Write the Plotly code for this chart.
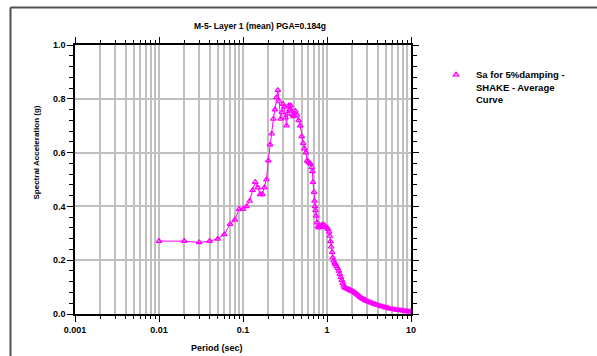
import plotly.graph_objects as go

period = [0.01, 0.02, 0.03, 0.04, 0.05, 0.06, 0.07, 0.08, 0.09, 0.10,
          0.11, 0.12, 0.13, 0.14, 0.15, 0.16, 0.17, 0.18, 0.19, 0.20,
          0.21, 0.22, 0.23, 0.24, 0.25, 0.26, 0.27, 0.28, 0.29, 0.30,
          0.31, 0.32, 0.33, 0.34, 0.35, 0.36, 0.37, 0.38, 0.39, 0.40,
          0.42, 0.44, 0.46, 0.48, 0.50, 0.52, 0.54, 0.56, 0.58, 0.60,
          0.62, 0.64, 0.66, 0.67, 0.68, 0.70, 0.71, 0.72, 0.73, 0.74,
          0.76, 0.78, 0.80, 0.83, 0.86, 0.90, 0.93, 0.96, 1.00, 1.03,
          1.06, 1.08, 1.10, 1.12, 1.15, 1.17, 1.20, 1.23, 1.26, 1.30,
          1.34, 1.38, 1.42, 1.46, 1.50, 1.54, 1.58, 1.62, 1.67, 1.72,
          1.78, 1.84, 1.90, 1.96, 2.02, 2.08, 2.15, 2.22, 2.30, 2.38,
          2.46, 2.55, 2.65, 2.75, 2.85, 2.95, 3.10, 3.25, 3.40, 3.60,
          3.80, 4.00, 4.25, 4.50, 4.75, 5.00, 5.30, 5.60, 6.00, 6.40,
          6.80, 7.20, 7.60, 8.00, 8.50, 9.00, 9.50, 10.0]

sa = [0.271, 0.271, 0.266, 0.271, 0.279, 0.296, 0.334, 0.350, 0.390, 0.390,
      0.400, 0.420, 0.460, 0.490, 0.470, 0.445, 0.445, 0.470, 0.500, 0.570,
      0.630, 0.670, 0.725, 0.760, 0.805, 0.832, 0.790, 0.725, 0.750, 0.780,
      0.770, 0.730, 0.700, 0.745, 0.775, 0.760, 0.775, 0.755, 0.740, 0.735,
      0.755, 0.740, 0.720, 0.700, 0.660, 0.635, 0.615, 0.600, 0.570, 0.565,
      0.562, 0.558, 0.545, 0.530, 0.490, 0.453, 0.420, 0.400, 0.385, 0.365,
      0.340, 0.325, 0.321, 0.325, 0.330, 0.332, 0.330, 0.322, 0.321, 0.315,
      0.305, 0.290, 0.270, 0.250, 0.230, 0.210, 0.198, 0.190, 0.185, 0.178,
      0.170, 0.160, 0.148, 0.137, 0.126, 0.115, 0.105, 0.099, 0.096, 0.094,
      0.092, 0.090, 0.088, 0.086, 0.084, 0.082, 0.079, 0.076, 0.072, 0.068,
      0.064, 0.060, 0.057, 0.054, 0.051, 0.049, 0.046, 0.043, 0.041, 0.038,
      0.035, 0.033, 0.030, 0.028, 0.026, 0.024, 0.022, 0.020, 0.018, 0.016,
      0.015, 0.014, 0.013, 0.012, 0.011, 0.010, 0.009, 0.009]

x_tickvals = [0.001, 0.01, 0.1, 1, 10]
x_ticktext = ["0.001", "0.01", "0.1", "1", "10"]
x_minor = [m * d for d in [0.001, 0.01, 0.1, 1] for m in range(2, 10)]
y_tickvals = [0.0, 0.2, 0.4, 0.6, 0.8, 1.0]
y_ticktext = ["0.0", "0.2", "0.4", "0.6", "0.8", "1.0"]

title_text = "M-5- Layer 1 (mean) PGA=0.184g"
x_title = "Period (sec)"
y_title = "Spectral Acceleration (g)"
series_name = "Sa for 5%damping -<br>SHAKE - Average<br>Curve"

W, H = 597, 356
ML, MR, MT, MB = 75, 186, 45, 42
PW, PH = W - ML - MR, H - MT - MB

def px(x):
    return (x - ML) / PW

def py(y):
    return (H - MB - y) / PH

FONT = "Liberation Sans, Arial, sans-serif"
MAG = "#ff00ff"
GRID = "#c0c0c0"
FRAME = "#505050"

fig = go.Figure()
# connecting line (no legend entry)
fig.add_trace(go.Scatter(
    x=period, y=sa, mode="lines", showlegend=False, hoverinfo="skip",
    line=dict(color=MAG, width=1),
))
# markers with legend entry
fig.add_trace(go.Scatter(
    x=period, y=sa, mode="markers", name=series_name,
    marker=dict(symbol="triangle-up-open", color=MAG, size=5, line=dict(width=1.2, color=MAG)),
))

axis_common = dict(
    showline=True, linecolor="black", linewidth=1.5, mirror="ticks",
    ticks="outside", tickcolor="black", tickwidth=1, ticklen=6,
    showgrid=True, gridcolor=GRID, gridwidth=2, zeroline=False,
    tickfont=dict(family=FONT, size=9, color="black", weight="bold"),
)

fig.update_layout(
    width=W, height=H, autosize=False,
    margin=dict(l=ML, r=MR, t=MT, b=MB),
    paper_bgcolor="white", plot_bgcolor="white",
    font=dict(family=FONT, color="black"),
    xaxis=dict(type="log", range=[-3, 1], tickmode="array",
               tickvals=x_tickvals, ticktext=x_ticktext,
               minor=dict(tickvals=x_minor, ticks="outside", ticklen=3,
                          tickcolor="black", showgrid=True, gridcolor=GRID, gridwidth=2),
               **axis_common),
    yaxis=dict(range=[0, 1], tickmode="array", tickvals=y_tickvals, ticktext=y_ticktext,
               minor=dict(dtick=0.04, tick0=0, ticks="outside", ticklen=4,
                          tickcolor="black", showgrid=False),
               **axis_common),
    showlegend=True,
    legend=dict(x=px(436), y=py(62), xanchor="left", yanchor="top",
                valign="top", bgcolor="rgba(0,0,0,0)", borderwidth=0,
                font=dict(family=FONT, size=9.5, color="black", weight="bold"),
                tracegroupgap=0),
    annotations=[
        dict(text=title_text, x=px(260), y=py(26), xref="paper", yref="paper",
             showarrow=False, xanchor="center", yanchor="middle",
             font=dict(family=FONT, size=8.5, color="black", weight="bold")),
        dict(text=x_title, x=px(217), y=py(348), xref="paper", yref="paper",
             showarrow=False, xanchor="center", yanchor="middle",
             font=dict(family=FONT, size=9, color="black", weight="bold")),
        dict(text=y_title, x=px(36), y=py(152.5), xref="paper", yref="paper",
             showarrow=False, xanchor="center", yanchor="middle", textangle=-90,
             font=dict(family=FONT, size=8, color="black", weight="bold")),
    ],
    shapes=[
        dict(type="line", xref="paper", yref="paper",
             x0=px(10.5), x1=px(597), y0=py(7.5), y1=py(7.5),
             line=dict(color=FRAME, width=2), layer="above"),
        dict(type="line", xref="paper", yref="paper",
             x0=px(10.5), x1=px(10.5), y0=py(7.5), y1=py(356),
             line=dict(color=FRAME, width=2), layer="above"),
    ],
)

fig.write_html(
    "out.html",
    config={"displayModeBar": False},
    post_script=(
        "document.documentElement.style.overflow='hidden';"
        "document.body.style.overflow='hidden';"
        "document.body.style.margin='0';document.body.style.padding='0';"
    ),
)
